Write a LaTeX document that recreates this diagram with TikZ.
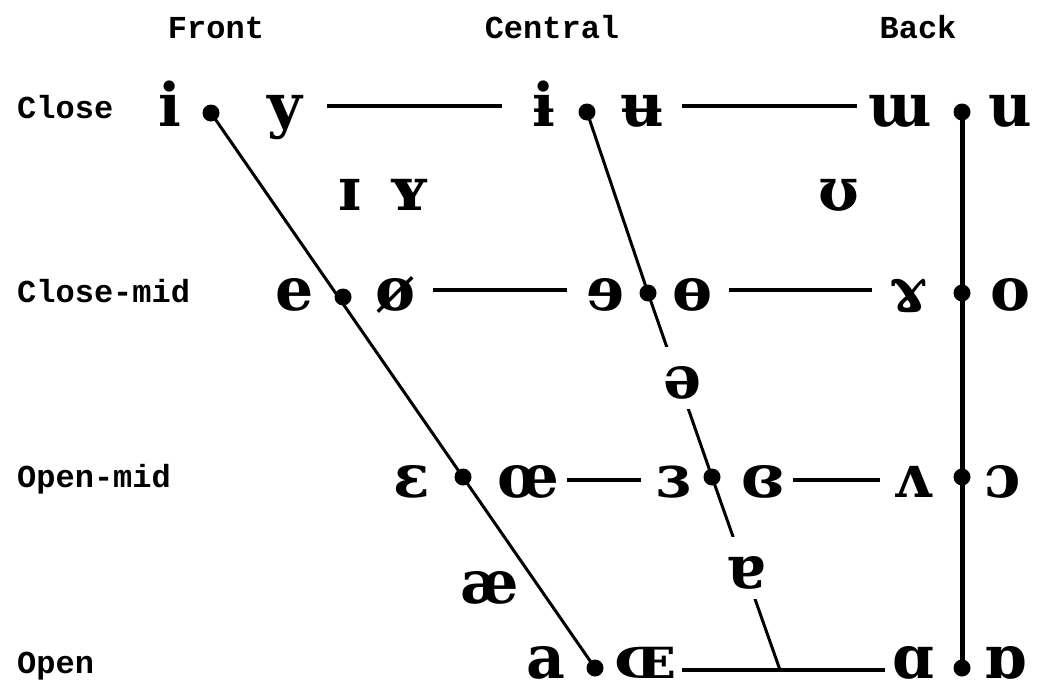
\documentclass[tikz,border=0pt]{standalone}
\usepackage{fontspec}
\newfontfamily\ipafont{DejaVu Serif}
\newfontfamily\labfont{Liberation Mono}
\tikzset{
  gl/.style={font=\ipafont\bfseries\fontsize{60}{60}\selectfont, inner sep=0pt, text height=44pt, text depth=4pt, anchor=center},
  glo/.style={gl, text height=40pt, text depth=0pt},
  glw/.style={gl, fill=white, inner ysep=7pt, inner xsep=3pt},
  lab/.style={font=\labfont\bfseries\fontsize{32}{32}\selectfont, inner sep=0pt, anchor=base west},
  head/.style={font=\labfont\bfseries\fontsize{32}{32}\selectfont, inner sep=0pt, anchor=base},
  vdot/.style={circle, fill=black, inner sep=0pt, minimum size=17pt},
  hl/.style={line width=4.5pt},
  dl/.style={line width=3pt},
  vl/.style={line width=5pt}
}
\begin{document}
\begin{tikzpicture}[x=1pt,y=-1pt]
\fill[white] (0,0) rectangle (1043,685);
\useasboundingbox (0,0) rectangle (1043,685);
% headers and row labels
\node[head] (hFront) at (216,38) {Front};
\node[head] (hCentral) at (552,38) {Central};
\node[head] (hBack) at (918,38) {Back};
\node[lab] (lClose) at (17,118) {Close};
\node[lab] (lCloseMid) at (17,302) {Close-mid};
\node[lab] (lOpenMid) at (17,487) {Open-mid};
\node[lab] (lOpen) at (17,673) {Open};
% dots
\node[vdot] (dI) at (211,113) {};
\node[vdot] (dIbar) at (587,112) {};
\node[vdot] (dU) at (962,112) {};
\node[vdot] (dE) at (343,297) {};
\node[vdot] (dRevE) at (648,293) {};
\node[vdot] (dO) at (962,293) {};
\node[vdot] (dEps) at (463,477) {};
\node[vdot] (dRevEps) at (712,477) {};
\node[vdot] (dOpenO) at (962,477) {};
\node[vdot] (dA) at (595,668) {};
\node[vdot] (dAlpha) at (962,668) {};
\coordinate (jn) at (780,670);
% diagonal and vertical lines
\draw[dl] (dI.center) -- (dA.center);
\draw[dl] (dIbar.center) -- (dRevE.center) -- (dRevEps.center) -- (jn);
\draw[vl] (dU.center) -- (dAlpha.center);
% close row
\node[gl] (i) at (170,106) {i};
\node[gl] (y) at (285,106) {y};
\node[gl] (ibar) at (544,106) {ɨ};
\node[gl] (ubar) at (642,106) {ʉ};
\node[gl] (turnm) at (900,106) {ɯ};
\node[gl] (u) at (1010,106) {u};
% near-close
\node[gl] (smallI) at (350,190) {ɪ};
\node[gl] (smallY) at (409,190) {ʏ};
\node[gl] (upsilon) at (839,190) {ʊ};
% close-mid
\node[gl] (e) at (295,290) {e};
\node[gl] (oslash) at (396,290) {ø};
\node[gl] (reve) at (606,290) {ɘ};
\node[gl] (barredo) at (692,290) {ɵ};
\node[gl] (ramshorn) at (908,290) {ɤ};
\node[gl] (o) at (1010,290) {o};
% mid
\node[glw] (schwa) at (683,378) {ə};
% open-mid
\node[gl] (eps) at (412,477) {ɛ};
\node[gl] (oe) at (528,477) {œ};
\node[gl] (reveps) at (673,477) {ɜ};
\node[gl] (closedreveps) at (763,477) {ɞ};
\node[gl] (wedge) at (913,477) {ʌ};
\node[gl] (openo) at (1003,477) {ɔ};
% near-open
\node[gl] (ae) at (490,583) {æ};
\node[glw] (turna) at (746,568) {ɐ};
% open
\node[glo] (a) at (546,658) {a};
\node[glo] (smallOE) at (645,658) {ɶ};
\node[glo] (alpha) at (913,658) {ɑ};
\node[glo] (turnalpha) at (1005,658) {ɒ};
% horizontal lines
\draw[hl, shorten <=42pt, shorten >=42pt] (y.center) -- (ibar.center);
\draw[hl, shorten <=40pt, shorten >=43pt] (ubar.center) -- (turnm.center);
\draw[hl, shorten <=37pt, shorten >=39pt] (oslash.center) -- (reve.center);
\draw[hl, shorten <=37pt, shorten >=36pt] (barredo.center) -- (ramshorn.center);
\draw[hl, shorten <=39pt, shorten >=32pt] ([yshift=-3pt]oe.center) -- ([yshift=-3pt]reveps.center);
\draw[hl, shorten <=30pt, shorten >=33pt] ([yshift=-3pt]closedreveps.center) -- ([yshift=-3pt]wedge.center);
\draw[hl, shorten <=37pt, shorten >=28pt] ([yshift=-12pt]smallOE.center) -- ([yshift=-12pt]alpha.center);
\end{tikzpicture}
\end{document}
